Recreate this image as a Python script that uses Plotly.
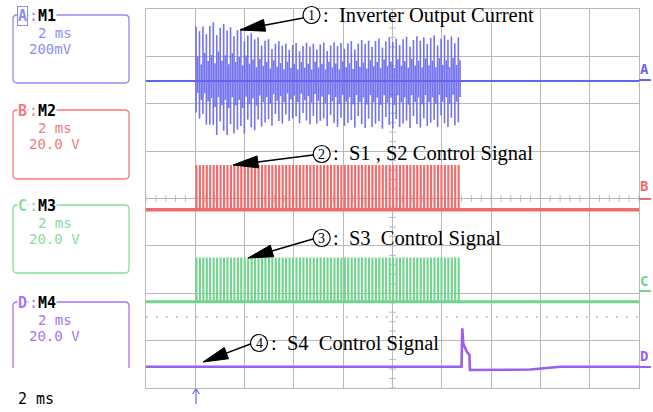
import numpy as np
import plotly.graph_objects as go

W, H = 653, 412
PL, PR, PT, PB = 146, 639, 9, 388  # plot box in pixels

TIME_RANGE_MS = [0.0, 20.0]        # 10 div x 2 ms/div
DIV_RANGE = [0.0, 8.0]             # 8 vertical divisions
BURST_START_MS = 2.03
BURST_END_A_MS = 12.78
BURST_END_B_MS = 12.70
BURST_END_C_MS = 12.78
SWITCH_PERIOD_MS = 0.14
PULSE_WIDTH_MS = 0.03

# channel A: inverter output current (divisions)
A_BASE = 6.48
ENV_T_MS = [2.03, 2.8, 3.8, 4.7, 5.8, 7.8, 9.7, 12.0, 12.78]
ENV_TOP_DIV = [1.15, 1.25, 1.12, 0.91, 0.80, 0.82, 0.91, 0.97, 0.97]
ENV_BOT_DIV = [0.72, 1.14, 1.14, 0.99, 0.87, 0.97, 1.01, 0.97, 0.97]
UPPER_FRAC = [1.0, 0.9, 0.97, 0.82, 0.95, 1.0, 0.78, 0.92]
LOWER_FRAC = [0.92, 1.0, 0.8, 0.97, 0.9, 0.84, 1.0, 0.75]
INNER_FRAC = [0.45, 0.3, 0.5, 0.35]

# channel B: S1, S2 control signal
B_BASE, B_HIGH = 3.76, 4.69
# channel C: S3 control signal
C_BASE, C_HIGH = 1.82, 2.74
# channel D: S4 control signal
D_T_MS = [0.0, 12.80, 12.83, 12.87, 13.01, 13.12, 13.14, 15.6, 16.8, 20.0]
D_DIV = [0.45, 0.45, 1.26, 0.94, 0.77, 0.70, 0.38, 0.39, 0.45, 0.45]

CH_LABELS = ["A", "B", "C", "D"]
CH_MATH = ["M1", "M2", "M3", "M4"]
CH_SCALE = ["200mV", "20.0 V", "20.0 V", "20.0 V"]
TIMEBASE = "2 ms"
NOTES = ["Inverter Output Current", "S1 , S2 Control Signal",
         "S3\u00a0 Control Signal", "S4\u00a0 Control Signal"]
NOTE_NUM = ["1", "2", "3", "4"]

# ---------------- styles ----------------
CA, CB, CC, CD = "#6464ee", "#f06c6c", "#72d48e", "#9a5ef0"
BOXC = ["#8d8df2", "#f07c7c", "#88dca0", "#a874f2"]
GRID = "#b9b9b9"
MONO = "DejaVu Sans Mono"
SERIF = "Liberation Serif"


def X(px):
    return (px - PL) / (PR - PL)


def Y(py):
    return (PB - py) / (PB - PT)


def pulse_train(t0, t1, base, high):
    xs, ys = [TIME_RANGE_MS[0]], [base]
    t = t0
    while t < t1:
        xs += [t, t, t + PULSE_WIDTH_MS, t + PULSE_WIDTH_MS]
        ys += [base, high, high, base]
        t += SWITCH_PERIOD_MS
    xs.append(TIME_RANGE_MS[1])
    ys.append(base)
    return xs, ys


fig = go.Figure()

# graticule centre ticks
tx, ty = [], []
xc = sum(TIME_RANGE_MS) / 2
yc = sum(DIV_RANGE) / 2
for v in np.arange(TIME_RANGE_MS[0], TIME_RANGE_MS[1] + 1e-9, 0.4):
    tx += [v, v, None]
    ty += [yc - 0.07, yc + 0.07, None]
for v in np.arange(DIV_RANGE[0], DIV_RANGE[1] + 1e-9, 0.2):
    tx += [xc - 0.14, xc + 0.14, None]
    ty += [v, v, None]
fig.add_trace(go.Scatter(x=tx, y=ty, mode="lines", line=dict(color=GRID, width=1),
                         hoverinfo="skip", showlegend=False))

# channel A
fig.add_trace(go.Scatter(x=TIME_RANGE_MS, y=[A_BASE, A_BASE], mode="lines",
                         line=dict(color=CA, width=2), showlegend=False))
tA = np.arange(BURST_START_MS, BURST_END_A_MS, SWITCH_PERIOD_MS)
top = np.interp(tA, ENV_T_MS, ENV_TOP_DIV)
bot = np.interp(tA, ENV_T_MS, ENV_BOT_DIV)
ax_, ay_ = [], []
for k, t in enumerate(tA):
    ax_ += [t, t, None]
    ay_ += [A_BASE + top[k] * UPPER_FRAC[k % len(UPPER_FRAC)],
            A_BASE - bot[k] * LOWER_FRAC[k % len(LOWER_FRAC)], None]
    f = INNER_FRAC[k % len(INNER_FRAC)]
    th = t + SWITCH_PERIOD_MS / 2
    ax_ += [th, th, None]
    ay_ += [A_BASE + top[k] * f, A_BASE - bot[k] * (0.8 - f), None]
fig.add_trace(go.Scatter(x=ax_, y=ay_, mode="lines", line=dict(color=CA, width=1.6),
                         opacity=0.9, showlegend=False))

# channel B
bx, by = pulse_train(BURST_START_MS, BURST_END_B_MS, B_BASE, B_HIGH)
fig.add_trace(go.Scatter(x=TIME_RANGE_MS, y=[B_BASE, B_BASE], mode="lines",
                         line=dict(color=CB, width=3.5), showlegend=False))
fig.add_trace(go.Scatter(x=bx, y=by, mode="lines", line=dict(color=CB, width=1.4),
                         showlegend=False))

# channel C
cx, cy = pulse_train(BURST_START_MS, BURST_END_C_MS, C_BASE, C_HIGH)
fig.add_trace(go.Scatter(x=TIME_RANGE_MS, y=[C_BASE, C_BASE], mode="lines",
                         line=dict(color=CC, width=3), showlegend=False))
fig.add_trace(go.Scatter(x=cx, y=cy, mode="lines", line=dict(color=CC, width=1.4),
                         showlegend=False))

# channel D
fig.add_trace(go.Scatter(x=D_T_MS, y=D_DIV, mode="lines", line=dict(color=CD, width=2.6),
                         showlegend=False))

shapes = []
annots = []

# dotted level line
shapes.append(dict(type="line", xref="x", yref="y", x0=TIME_RANGE_MS[0], x1=TIME_RANGE_MS[1],
                   y0=1.5, y1=1.5, line=dict(color="#a8a8a8", width=1.5, dash="1.5px,8.5px"),
                   layer="below"))


def rounded_box(x0, y0, x1, y1, r, open_bottom=False):
    if open_bottom:
        p = (f"M {X(x0)},{Y(y1)} L {X(x0)},{Y(y0 + r)} Q {X(x0)},{Y(y0)} {X(x0 + r)},{Y(y0)} "
             f"L {X(x1 - r)},{Y(y0)} Q {X(x1)},{Y(y0)} {X(x1)},{Y(y0 + r)} L {X(x1)},{Y(y1)}")
    else:
        p = (f"M {X(x0)},{Y(y0 + r)} Q {X(x0)},{Y(y0)} {X(x0 + r)},{Y(y0)} "
             f"L {X(x1 - r)},{Y(y0)} Q {X(x1)},{Y(y0)} {X(x1)},{Y(y0 + r)} "
             f"L {X(x1)},{Y(y1 - r)} Q {X(x1)},{Y(y1)} {X(x1 - r)},{Y(y1)} "
             f"L {X(x0 + r)},{Y(y1)} Q {X(x0)},{Y(y1)} {X(x0)},{Y(y1 - r)} Z")
    return p


box_tops = [15, 110, 205, 302]
box_bots = [83, 179, 273, 368]
for i in range(4):
    col = BOXC[i]
    shapes.append(dict(type="path", xref="paper", yref="paper",
                       path=rounded_box(13, box_tops[i], 129, box_bots[i], 4, open_bottom=(i == 3)),
                       line=dict(color=col, width=1.3)))
    yt = box_tops[i]
    annots.append(dict(x=X(17), y=Y(yt + 1), xanchor="left", yanchor="middle",
                       text=f"<b>{CH_LABELS[i]}</b>", font=dict(family=MONO, size=15, color=col),
                       bgcolor="white", bordercolor=col if i == 0 else "rgba(0,0,0,0)",
                       borderwidth=1, borderpad=0))
    annots.append(dict(x=X(28), y=Y(yt + 1), xanchor="left", yanchor="middle",
                       text=f"<span style='color:{col}'>:</span><b>{CH_MATH[i]}</b>",
                       font=dict(family=MONO, size=15, color="black"),
                       bgcolor="white", borderpad=0))
    annots.append(dict(x=X(36), y=Y(yt + 18), xanchor="left", yanchor="middle",
                       text=TIMEBASE, font=dict(family=MONO, size=14, color=col)))
    annots.append(dict(x=X(27), y=Y(yt + 34), xanchor="left", yanchor="middle",
                       text=CH_SCALE[i], font=dict(family=MONO, size=14, color=col)))

annots.append(dict(x=X(16), y=Y(399), xanchor="left", yanchor="middle", text=TIMEBASE,
                   font=dict(family=MONO, size=15, color="black")))

# right-hand channel markers
right_y = [69, 186, 281, 356]
right_u = [80, 199, 291, 367]
for i, c in enumerate([CA, CB, CC, CD]):
    annots.append(dict(x=X(644), y=Y(right_y[i]), xanchor="center", yanchor="middle",
                       text=f"<b>{CH_LABELS[i]}</b>", font=dict(family=MONO, size=14, color=c)))
    shapes.append(dict(type="line", xref="paper", yref="paper", x0=X(639), x1=X(651),
                       y0=Y(right_u[i]), y1=Y(right_u[i]), line=dict(color=c, width=2)))

# trigger marker
shapes.append(dict(type="path", xref="paper", yref="paper",
                   path=f"M {X(196)},{Y(404)} L {X(196)},{Y(389)} M {X(192.5)},{Y(394)} "
                        f"L {X(196)},{Y(389)} L {X(199.5)},{Y(394)}",
                   line=dict(color="#6a6aee", width=1.2)))

# call-out annotations
circ = [(311.5, 15), (321.7, 154), (321.7, 238), (259, 343)]
tails = [(303, 18), (313, 155), (313, 239), (250.5, 344)]
tips = [(240, 30), (233, 165), (248, 258), (203, 362)]
rad = 8.5
for i in range(4):
    cxp, cyp = circ[i]
    shapes.append(dict(type="circle", xref="paper", yref="paper",
                       x0=X(cxp - rad), x1=X(cxp + rad), y0=Y(cyp + rad), y1=Y(cyp - rad),
                       line=dict(color="black", width=1.2), fillcolor="white"))
    annots.append(dict(x=X(cxp), y=Y(cyp + 0.5), xanchor="center", yanchor="middle",
                       text=NOTE_NUM[i], font=dict(family=SERIF, size=14, color="black")))
    annots.append(dict(x=X(cxp + rad + 1), y=Y(cyp), xanchor="left", yanchor="middle",
                       text=":\u00a0 " + NOTES[i], font=dict(family=SERIF, size=20.5, color="black")))
    (x0, y0), (x1, y1) = tails[i], tips[i]
    dx, dy = x1 - x0, y1 - y0
    L = (dx * dx + dy * dy) ** 0.5
    ux, uy = dx / L, dy / L
    hl, hw = 25, 6
    bxp, byp = x1 - ux * hl, y1 - uy * hl
    shapes.append(dict(type="line", xref="paper", yref="paper", x0=X(x0), y0=Y(y0),
                       x1=X(bxp), y1=Y(byp), line=dict(color="black", width=1.5)))
    shapes.append(dict(type="path", xref="paper", yref="paper",
                       path=f"M {X(x1)},{Y(y1)} L {X(bxp - uy * hw)},{Y(byp + ux * hw)} "
                            f"L {X(bxp + uy * hw)},{Y(byp - ux * hw)} Z",
                       fillcolor="black", line=dict(color="black", width=1)))

fig.update_layout(
    width=W, height=H, margin=dict(l=PL, r=W - PR, t=PT, b=H - PB),
    paper_bgcolor="white", plot_bgcolor="white",
    xaxis=dict(range=TIME_RANGE_MS, dtick=2, showgrid=True, gridcolor=GRID, gridwidth=1,
               showticklabels=False, ticks="", zeroline=False, showline=True,
               linecolor=GRID, mirror=True, fixedrange=True),
    yaxis=dict(range=DIV_RANGE, dtick=1, showgrid=True, gridcolor=GRID, gridwidth=1,
               showticklabels=False, ticks="", zeroline=False, showline=True,
               linecolor=GRID, mirror=True, fixedrange=True),
    shapes=shapes, annotations=annots, showlegend=False,
)
for a in fig.layout.annotations:
    a.showarrow = False
    a.xref = "paper"
    a.yref = "paper"

fig.write_html("out.html", config={"displayModeBar": False},
               post_script="document.body.style.margin='0';document.body.style.padding='0';"
                           "document.body.style.overflow='hidden';")
